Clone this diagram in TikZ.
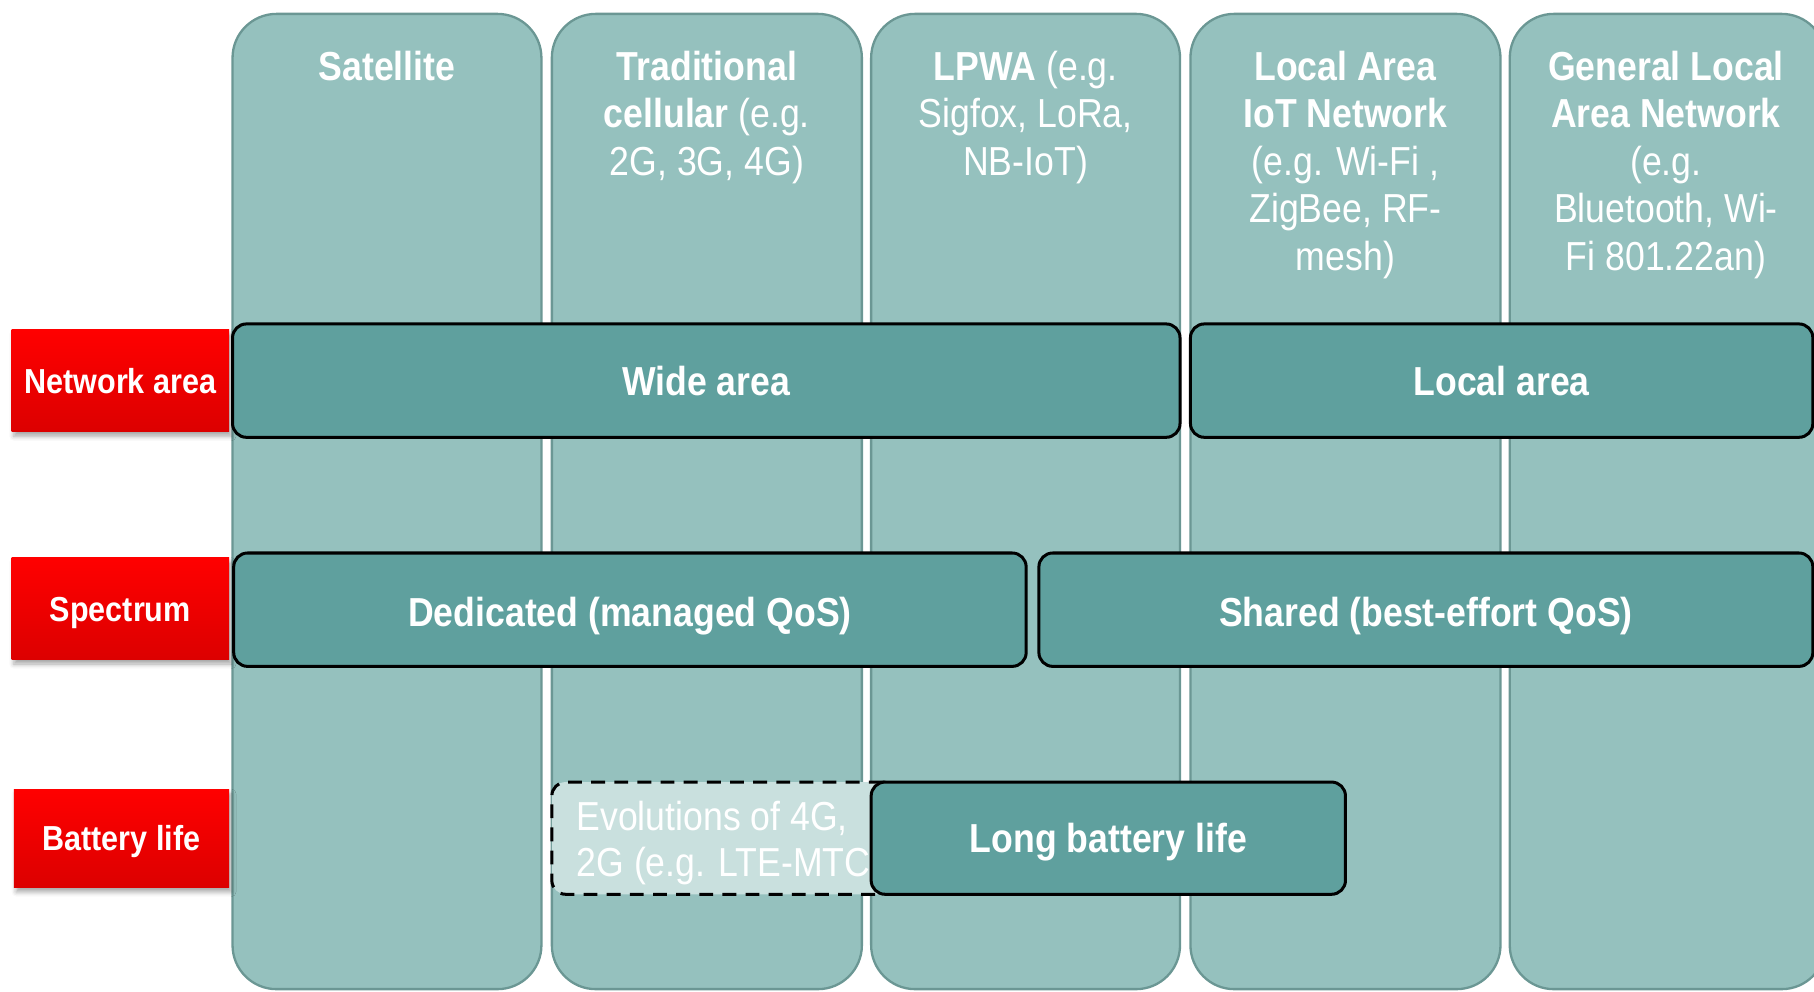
\documentclass[tikz,border=0pt]{standalone}
\usepackage{fontspec}
\setmainfont{Liberation Sans}[FakeStretch=0.88]
\usetikzlibrary{fit,shadows.blur}
\definecolor{colfill}{HTML}{95C1BE}
\definecolor{coledge}{HTML}{6B9794}
\definecolor{barfill}{HTML}{5FA09E}
\definecolor{dashfill}{HTML}{C9E0DE}
\definecolor{redtop}{HTML}{FF0000}
\definecolor{redbot}{HTML}{DC0000}
\begin{document}
\begin{tikzpicture}[x=0.5pt,y=-0.5pt,
  column/.style={draw=coledge, line width=1pt, fill=colfill, rounded corners=19pt, inner sep=0pt},
  % multi-line headings are anchored at the baseline of their last line
  coltitle/.style={text=white, align=center, font=\fontsize{17.5}{20.5}\selectfont, anchor=base, inner sep=0pt},
  bar/.style={draw=black, line width=1.3pt, fill=barfill, rounded corners=6pt, inner sep=0pt},
  dashbar/.style={draw=black, line width=1.3pt, dash pattern=on 6pt off 4pt, fill=dashfill, rounded corners=6pt, inner sep=0pt},
  % text box height = cap height, so the capitals sit centred in their box
  bartext/.style={text=white, font=\bfseries\fontsize{17.5}{20.5}\selectfont, text height=12.6pt, text depth=0pt, inner sep=0pt},
  rowlabel/.style={inner sep=0pt, top color=redtop, bottom color=redbot,
    blur shadow={shadow xshift=1pt, shadow yshift=-2pt, shadow opacity=35, shadow blur radius=2pt}},
  labeltext/.style={text=white, font=\bfseries\fontsize{15}{18}\selectfont, text height=10.8pt, text depth=0pt, inner sep=0pt}
]
\useasboundingbox (0,0) rectangle (1568,857);
\clip (0,0) rectangle (1568,857);

% technology columns
\node[column, fit={(201,12) (468,855)}] (sat) {};
\node[column, fit={(477,12) (745,855)}] (cell) {};
\node[column, fit={(753,12) (1020,855)}] (lpwa) {};
\node[column, fit={(1029,12) (1297,855)}] (liot) {};
\node[column, fit={(1305,12) (1578,855)}] (glan) {};

% column headings
\node[coltitle] (satT) at (334.5,69.5) {\bfseries Satellite};
\node[coltitle] (cellT) at (611,151.5) {\textbf{Traditional}\\\textbf{cellular} (e.g.\\2G, 3G, 4G)};
\node[coltitle] (lpwaT) at (886.5,151.5) {\textbf{LPWA} (e.g.\\Sigfox, LoRa,\\NB-IoT)};
\node[coltitle] (liotT) at (1163,233.5) {\textbf{Local Area}\\\textbf{IoT Network}\\(e.g. Wi-Fi ,\\ZigBee, RF-\\mesh)};
\node[coltitle] (glanT) at (1440,233.5) {\textbf{General Local}\\\textbf{Area Network}\\(e.g.\\Bluetooth, Wi-\\Fi 801.22an)};

% row labels
\node[rowlabel, fit={(10,285) (198,373)}] (netL) {};
\node[labeltext] at (netL) {Network area};
\node[rowlabel, fit={(10,482) (198,570)}] (specL) {};
\node[labeltext] at (specL) {Spectrum};
\node[rowlabel, fit={(12,682) (198,767)}] (battL) {};
\node[labeltext] at (battL) {Battery life};

% network area row
\node[bar, fit={(201,280) (1020,378)}] (wide) {};
\node[bartext] at (wide) {Wide area};
\node[bar, fit={(1029,280) (1567,378)}] (local) {};
\node[bartext] at (local) {Local area};

% spectrum row
\node[bar, fit={(202,478) (887,576)}] (ded) {};
\node[bartext] at ([yshift=-1pt]ded.center) {Dedicated (managed QoS)};
\node[bar, fit={(898,478) (1567,576)}] (shared) {};
\node[bartext] at ([yshift=-1pt]shared.center) {Shared (best-effort QoS)};

% battery row
\node[dashbar, fit={(477,676) (775,773)}] (evo) {};
\begin{scope}
  \clip (477,676) rectangle (753,773);
  \node[text=white, align=left, anchor=base west, inner sep=0pt,
        font=\fontsize{17.5}{20}\selectfont] (evoT) at (498,758)
        {Evolutions of 4G,\\2G (e.g. LTE-MTC)};
\end{scope}
\node[bar, fit={(753,676) (1163,773)}] (long) {};
\node[bartext] at (long) {Long battery life};
\end{tikzpicture}
\end{document}
